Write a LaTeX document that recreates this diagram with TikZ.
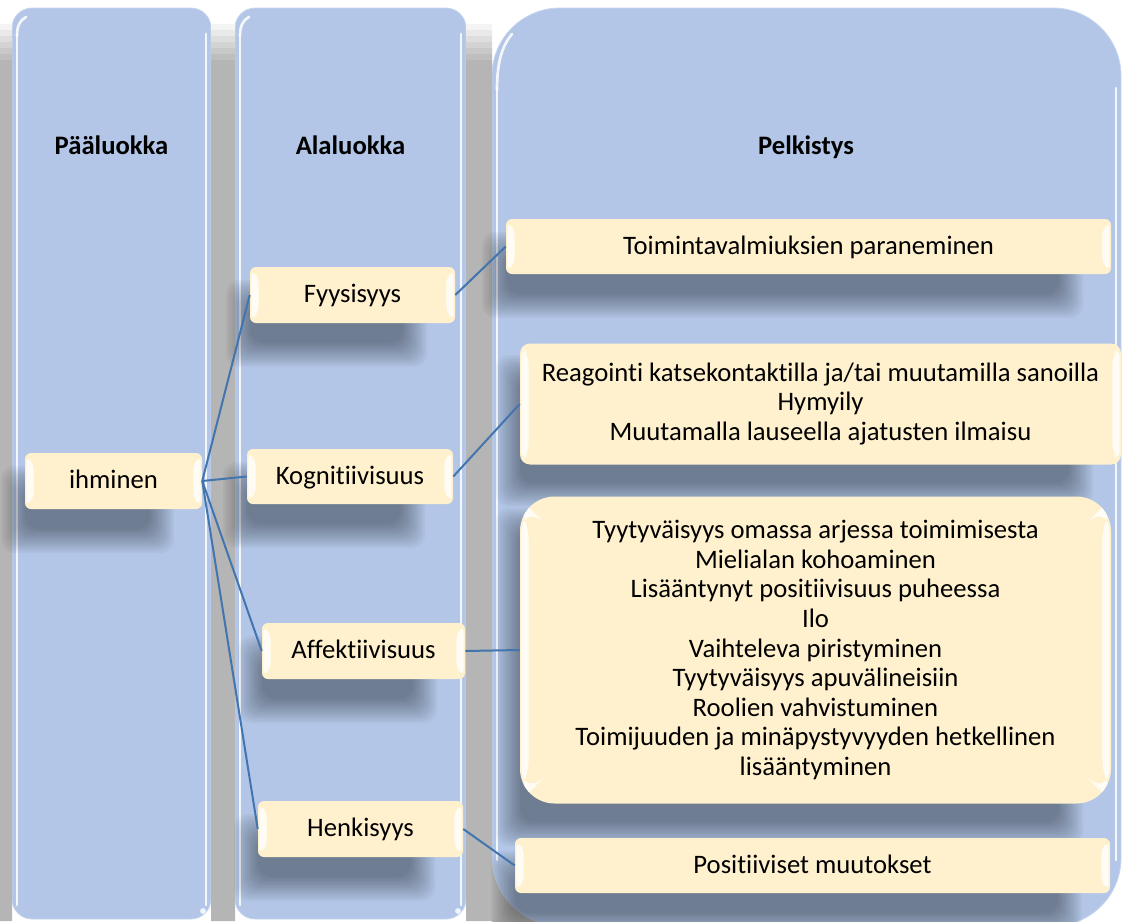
\documentclass[tikz,border=0pt]{standalone}
\usepackage{fontspec}
\setmainfont{Carlito}[Ligatures={NoCommon}]
\definecolor{colfill}{HTML}{B3C6E7}
\definecolor{colrim}{HTML}{C6D5EE}
\definecolor{boxfill}{HTML}{FFF1CE}
\definecolor{link}{HTML}{4275AD}
\definecolor{gapA}{HTML}{F4F4F4}
\definecolor{gapB}{HTML}{E9E9E9}
\definecolor{gapC}{HTML}{DEDEDE}
\definecolor{gapD}{HTML}{D3D3D3}
\definecolor{gapE}{HTML}{C8C8C8}
\definecolor{gapF}{HTML}{BEBEBE}
\definecolor{gapG}{HTML}{B5B5B5}

% soft shadow: stacked translucent rounded rectangles
% #1,#2 = top-left, #3,#4 = bottom-right, #5 = blur width, #6 = layer opacity
\newcommand\softshadow[6]{%
  \foreach \k in {0,...,11}{%
    \pgfmathsetmacro\ins{#5*(\k/5.5-1)}%
    \fill[black, fill opacity=#6, rounded corners=10pt]
      ({#1+(\ins)},{#2+(\ins)}) rectangle ({#3-(\ins)},{#4-(\ins)});
  }}
% shadow cast by a yellow box with corners (#1,#2)-(#3,#4)
\newcommand\boxshadow[4]{\softshadow{#1-12}{#2+25}{#3-40}{#4+32}{12}{0.034}}
% the page strips left of and between the columns, from y=#1 to y=#2
\newcommand\gaps[2]{(0,#1) rectangle (12,#2) (211,#1) rectangle (235,#2)
  (466,#1) rectangle (492,#2)}

\begin{document}
\begin{tikzpicture}[x=0.75pt,y=-0.75pt,
  every node/.style={font=\fontsize{20pt}{22.2pt}\selectfont, text=black},
  colbox/.style={fill=colfill, draw=colrim, line width=0.6pt},
  gloss/.style={white, line width=2pt, opacity=.85, line cap=round},
  head/.style={font=\fontsize{20pt}{22pt}\selectfont\bfseries, anchor=base},
  sz/.style 2 args={minimum width=#1*0.75pt, minimum height=#2*0.75pt},
  oneline/.style={text height=16pt, text depth=4.5pt},
  bevel/.style={path picture={
    \fill[white,opacity=.8]
      ([shift={(1pt,-2.5pt)}]path picture bounding box.north west) --
      ([shift={(6.5pt,-8pt)}]path picture bounding box.north west) --
      ([shift={(6.5pt,8pt)}]path picture bounding box.south west) --
      ([shift={(1pt,2.5pt)}]path picture bounding box.south west) -- cycle;
    \fill[white,opacity=.8]
      ([shift={(-1pt,-2.5pt)}]path picture bounding box.north east) --
      ([shift={(-6.5pt,-8pt)}]path picture bounding box.north east) --
      ([shift={(-6.5pt,8pt)}]path picture bounding box.south east) --
      ([shift={(-1pt,2.5pt)}]path picture bounding box.south east) -- cycle;
  }},
  ybox/.style={fill=boxfill, draw=none, rounded corners=4.5pt, inner sep=0pt,
    align=center, bevel},
  link/.style={draw=link, line width=1.5pt}
]
\useasboundingbox (0,0) rectangle (1128,921);

% three category columns
\path[colbox, rounded corners=15pt] (12,8) rectangle (211,919);
\path[colbox, rounded corners=15pt] (235,8) rectangle (466,919);
\path[colbox, rounded corners=51pt] (492,8) rectangle (1121,926);

% grey shadow of the columns on the page, fading in towards the top
\fill[gapA] \gaps{24}{30};
\fill[gapB] \gaps{30}{36};
\fill[gapC] \gaps{36}{42};
\fill[gapD] \gaps{42}{48};
\fill[gapE] \gaps{48}{54};
\fill[gapF] \gaps{54}{60};
\fill[gapG] \gaps{60}{921};
\fill[gapG] (492,858) .. controls (492,895.6) and (522.4,926) .. (560,926)
  -- (492,926) -- cycle;

% glossy rims
\draw[gloss] (17,34) -- (17,905);
\draw[gloss] (206,34) -- (206,905);
\draw[gloss] (17,36) .. controls (17,26) and (20,20) .. (26,17);
\draw[gloss] (240,34) -- (240,905);
\draw[gloss] (461,34) -- (461,905);
\draw[gloss] (240,36) .. controls (240,26) and (243,20) .. (249,17);
\draw[gloss] (497,88) -- (497,860);
\draw[gloss] (1116,88) -- (1116,860);
\draw[gloss] (497,90) .. controls (497,62) and (502,46) .. (512,34);
\fill[white, opacity=.8] (203,911) circle [radius=2.2pt];
\fill[white, opacity=.8] (458,911) circle [radius=2.2pt];

% column headings
\node[head] (h1) at (111.5,154) {Pääluokka};
\node[head] (h2) at (350.5,154) {Alaluokka};
\node[head] (h3) at (806,154) {Pelkistys};

% shadows beneath the boxes
\boxshadow{25}{453}{202}{509}
\boxshadow{250}{267}{455}{323}
\boxshadow{247}{449}{453}{504}
\boxshadow{262}{623}{465}{679}
\boxshadow{258}{801}{463}{857}
\boxshadow{506}{219}{1111}{274}
\boxshadow{520}{342}{1121}{463}
\boxshadow{520}{495}{1111}{802}
\boxshadow{515}{838}{1110}{893}

% main category
\node[ybox, oneline, sz={177}{56}] (ihm) at (113.5,481) {ihminen};

% subcategories
\node[ybox, oneline, sz={205}{56}] (fyy) at (352.5,295) {Fyysisyys};
\node[ybox, oneline, sz={206}{55}] (kog) at (350,476.5) {Kognitiivisuus};
\node[ybox, oneline, sz={203}{56}] (aff) at (363.5,651) {Affektiivisuus};
\node[ybox, oneline, sz={205}{56}] (hen) at (360.5,829) {Henkisyys};

% simplified expressions
\node[ybox, oneline, sz={605}{55}] (toi) at (808.5,246.5) {Toimintavalmiuksien paraneminen};
\node[ybox, sz={601}{121}, rounded corners=7.5pt] (rea) at (820.5,404)
  {Reagointi katsekontaktilla ja/tai muutamilla sanoilla\\Hymyily\\Muutamalla lauseella ajatusten ilmaisu};
\node[ybox, sz={591}{307}, rounded corners=26pt] (big) at (815.5,650)
  {Tyytyväisyys omassa arjessa toimimisesta\\Mielialan kohoaminen\\Lisääntynyt positiivisuus puheessa\\Ilo\\Vaihteleva piristyminen\\Tyytyväisyys apuvälineisiin\\Roolien vahvistuminen\\Toimijuuden ja minäpystyvyyden hetkellinen\\lisääntyminen};
\node[ybox, oneline, sz={595}{55}] (pos) at (812.5,865.5) {Positiiviset muutokset};

% connectors
\draw[link] (ihm.east) -- (fyy.west);
\draw[link] (ihm.east) -- (kog.west);
\draw[link] (ihm.east) -- (aff.west);
\draw[link] (ihm.east) -- (hen.west);
\draw[link] (fyy.east) -- (toi.west);
\draw[link] (kog.east) -- (rea.west);
\draw[link] (aff.east) -- (big.west);
\draw[link] (hen.east) -- (pos.west);
\end{tikzpicture}
\end{document}
